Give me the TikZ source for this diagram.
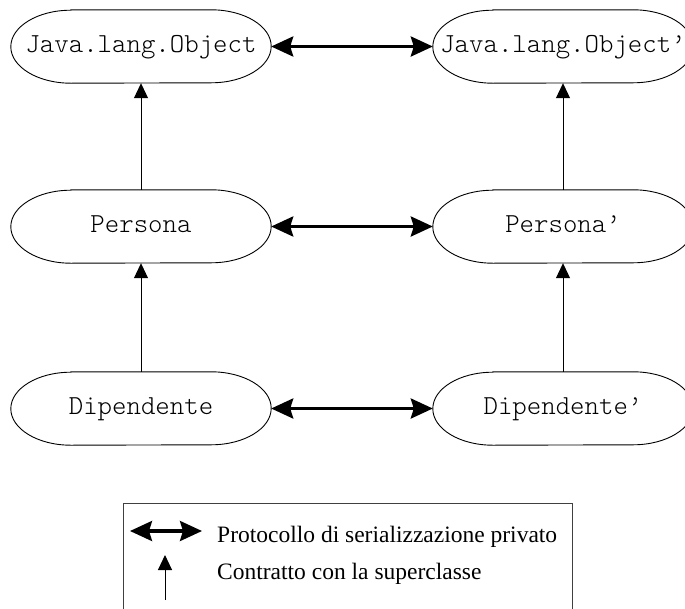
\documentclass[tikz,border=0pt]{standalone}
\usepackage{fontspec}
\setmainfont{Liberation Serif}
\newfontfamily\classfont{Latin Modern Mono Light}
\usetikzlibrary{arrows.meta}
\begin{document}
\begin{tikzpicture}[x=1pt,y=-1pt,
  cls/.style={minimum width=260pt,minimum height=73pt,inner sep=0pt,
    text height=15pt,text depth=4pt,font=\classfont\fontsize{27.5}{30}\selectfont},
  outline/.style={line width=0.9pt},
  proto/.style={line width=3.2pt,
    {Stealth[length=22pt,width=20pt,inset=3pt]}-{Stealth[length=22pt,width=20pt,inset=3pt]}},
  contract/.style={line width=1pt,-{Triangle[length=15pt,width=14pt]}},
  legendtext/.style={anchor=base west,inner sep=0pt,font=\fontsize{23.5}{28}\selectfont},
]
\useasboundingbox (0,0) rectangle (685,608);

% class nodes: original hierarchy (left) and its serialized copy (right)
\node[cls] (o1) at (141,46.5) {Java.lang.Object};
\node[cls] (p1) at (141,226.5) {Persona};
\node[cls] (d1) at (141,408.5) {Dipendente};
\node[cls] (o2) at (563,46.5) {Java.lang.Object’};
\node[cls] (p2) at (563,226.5) {Persona’};
\node[cls] (d2) at (563,408.5) {Dipendente’};

% stadium outlines with half-elliptical ends
\foreach \n in {o1,p1,d1,o2,p2,d2}{
  \draw[outline] ([xshift=60pt]\n.north west) -- ([xshift=-60pt]\n.north east)
    arc[start angle=90,end angle=-90,x radius=60pt,y radius=36.5pt]
    -- ([xshift=60pt]\n.south west)
    arc[start angle=270,end angle=90,x radius=60pt,y radius=36.5pt] -- cycle;
}

% private serialization protocol
\draw[proto] (o1.east) -- (o2.west);
\draw[proto] (p1.east) -- (p2.west);
\draw[proto] (d1.east) -- (d2.west);

% contract with the superclass
\draw[contract] (p1.north) -- (o1.south);
\draw[contract] (d1.north) -- (p1.south);
\draw[contract] (p2.north) -- (o2.south);
\draw[contract] (d2.north) -- (p2.south);

% legend
\draw[line width=1pt,black!75] (123,503) rectangle (572,650);
\coordinate (lpa) at (130,531);
\coordinate (lpb) at (202,531);
\draw[proto] (lpa) -- (lpb);
\node[legendtext] (lpt) at (217,542) {Protocollo di serializzazione privato};
\coordinate (lca) at (165,600);
\coordinate (lcb) at (165,555);
\draw[contract] (lca) -- (lcb);
\node[legendtext] (lct) at (217,579) {Contratto con la superclasse};
\end{tikzpicture}
\end{document}
